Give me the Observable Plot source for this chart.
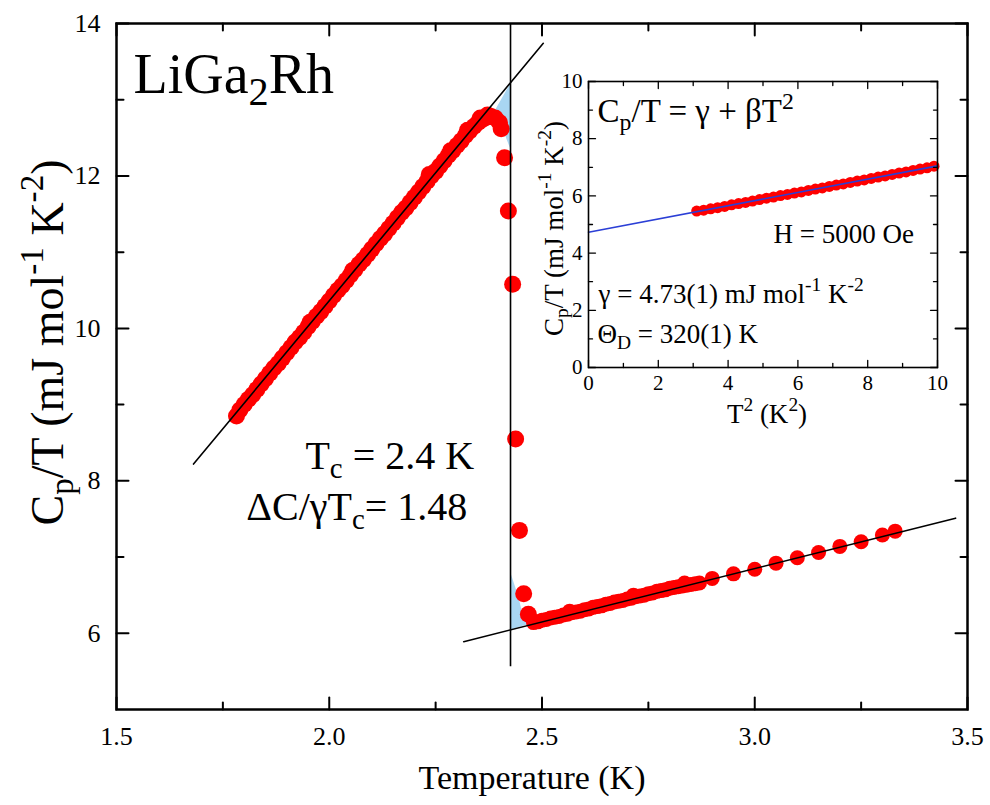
<!DOCTYPE html>
<html><head><meta charset="utf-8">
<script src="https://cdn.jsdelivr.net/npm/d3@7"></script>
<script src="https://cdn.jsdelivr.net/npm/@observablehq/plot@0.6"></script>
<style>
body{margin:0;background:#fff;}
#wrap{position:relative;width:990px;height:805px;}
#wrap svg{position:absolute;}
#wrap svg text{font-family:"Liberation Serif","Times New Roman",serif;}
</style></head><body><div id="wrap"></div>
<script>
// ---------- main panel data ----------
const mainXDomain = [1.5, 3.5];
const mainYDomain = [5, 14];
const mainXMajor = [1.5, 2.0, 2.5, 3.0, 3.5];
const mainXMinor = [1.75, 2.25, 2.75, 3.25];
const mainYMajor = [6, 8, 10, 12, 14];
const mainYMinor = [7, 9, 11, 13];

// superconducting branch, peak and jump
const scT = [1.782,1.79,1.80,1.81,1.82,1.83,1.84,1.85,1.86,1.87,1.88,1.89,1.90,1.91,1.92,1.93,1.94,1.95,1.96,1.97,1.98,1.99,2.00,2.01,2.02,2.03,2.04,2.05,2.06,2.07,2.08,2.09,2.10,2.11,2.12,2.13,2.14,2.15,2.16,2.17,2.18,2.19,2.20,2.21,2.22,2.23,2.24,2.25,2.26,2.27,2.28,2.29,2.30,2.31,2.32,2.33,2.34,2.35,2.36,2.37,2.38,2.39,1.955,2.055,2.235,2.285,2.325,2.355,2.372,2.400,2.404,2.412,2.421,2.431,2.438,2.447,2.457,2.468];
const scV = [8.85,8.93,9.00,9.07,9.13,9.20,9.27,9.34,9.41,9.48,9.54,9.61,9.68,9.75,9.82,9.88,9.95,10.02,10.09,10.16,10.22,10.29,10.36,10.43,10.50,10.56,10.63,10.70,10.77,10.84,10.90,10.97,11.04,11.11,11.18,11.24,11.31,11.38,11.45,11.52,11.58,11.65,11.72,11.79,11.86,11.93,12.00,12.06,12.13,12.20,12.27,12.33,12.40,12.46,12.53,12.59,12.65,12.70,12.74,12.77,12.78,12.76,10.08,10.76,12.02,12.33,12.60,12.76,12.80,12.70,12.62,12.24,11.54,10.58,8.55,7.35,6.52,6.25];
// normal-state branch
const nT = [2.48,2.49,2.50,2.51,2.52,2.53,2.54,2.55,2.56,2.57,2.58,2.59,2.60,2.61,2.62,2.63,2.64,2.65,2.66,2.67,2.68,2.69,2.70,2.71,2.72,2.73,2.74,2.75,2.76,2.77,2.78,2.79,2.80,2.81,2.82,2.83,2.84,2.85,2.86,2.87,2.565,2.715,2.835,2.90,2.95,3.00,3.05,3.10,3.15,3.20,3.25,3.30,3.33];
const nV = [6.14,6.15,6.17,6.18,6.20,6.21,6.22,6.24,6.25,6.27,6.28,6.29,6.31,6.32,6.34,6.35,6.36,6.38,6.39,6.41,6.42,6.43,6.45,6.46,6.48,6.49,6.50,6.52,6.53,6.55,6.56,6.57,6.59,6.60,6.61,6.62,6.63,6.64,6.65,6.66,6.29,6.50,6.66,6.72,6.78,6.84,6.92,6.99,7.06,7.14,7.20,7.29,7.34];

const fitScT = [1.681, 2.503];
const fitScV = [8.22, 13.74];
const fitNT = [2.316, 3.472];
const fitNV = [5.89, 7.51];
const tcLineT = 2.426;
const tcLineV = [5.56, 14];

const shadeTopT = [2.386, 2.426, 2.426, 2.412, 2.400];
const shadeTopV = [12.83, 13.22, 12.35, 12.55, 12.75];
const shadeBotT = [2.426, 2.426, 2.466, 2.452, 2.445];
const shadeBotV = [6.79, 6.05, 6.12, 6.30, 6.47];

const compoundLabel = "LiGa_{2}Rh";
const tcLines = ["T_{c} = 2.4 K", "ΔC/γT_{c}= 1.48"];   // two lines of one annotation
const tcLinesT = [1.944, 1.805];                        // left edge of each line (K)
const tcLinesV = [8.152, 7.482];                        // baseline of each line
const mainXTitle = "Temperature (K)";
const mainYTitle = "C_{p}/T (mJ mol^{-1} K^{-2})";

// ---------- inset data ----------
const insXDomain = [0, 10];
const insYDomain = [0, 10];
const insMajor = [0, 2, 4, 6, 8, 10];
const insMinor = [1, 3, 5, 7, 9];
const insT2 = [3.1,3.3,3.5,3.7,3.9,4.1,4.3,4.5,4.7,4.9,5.1,5.3,5.5,5.7,5.9,6.1,6.3,6.5,6.7,6.9,7.1,7.3,7.5,7.7,7.9,8.1,8.3,8.5,8.7,8.9,9.1,9.3,9.5,9.7,9.9];
const insV = [5.47,5.50,5.55,5.59,5.63,5.69,5.73,5.77,5.82,5.87,5.92,5.96,6.01,6.05,6.10,6.14,6.19,6.24,6.28,6.33,6.38,6.42,6.47,6.52,6.56,6.61,6.66,6.70,6.75,6.80,6.84,6.89,6.94,6.98,7.04];
const insFitX = [0, 10];
const insFitV = [4.73, 7.05];
const insFormula = "C_{p}/T = γ + βT^{2}";
const insField = "H = 5000 Oe";
const insGamma = "γ = 4.73(1) mJ mol^{-1} K^{-2}";
const insTheta = "Θ_{D} = 320(1) K";
const insXTitle = "T^{2} (K^{2})";
const insYTitle = "C_{p}/T (mJ mol^{-1} K^{-2})";

// ---------- helpers ----------
const FONT = "Liberation Serif";
const ns = "http://www.w3.org/2000/svg";
const zip = (a, b) => a.map((v, i) => ({x: v, y: b[i]}));
const tickShape = {draw(c, l) { c.moveTo(0, 0); c.lineTo(0, -l); }};
function frameTicks(xs, ys, xd, yd, len, sw) {
  const o = {length: len, anchor: "start", shape: tickShape, strokeWidth: sw};
  return [
    Plot.vector(xs, {x: d => d, y: yd[0], rotate: 0, ...o}),
    Plot.vector(xs, {x: d => d, y: yd[1], rotate: 180, ...o}),
    Plot.vector(ys, {x: xd[0], y: d => d, rotate: 90, ...o}),
    Plot.vector(ys, {x: xd[1], y: d => d, rotate: -90, ...o})
  ];
}
function label(str, opts) { return Plot.text([str], {text: d => d, lineAnchor: "bottom", fontFamily: FONT, ...opts}); }

// fill a text/tspan node with rich content: _{sub} and ^{sup}
function fillRich(node, s, fs) {
  let shift = 0;
  const add = (str, kind) => {
    if (!str) return;
    const ts = document.createElementNS(ns, "tspan");
    const target = kind === "sub" ? 0.22 * fs : kind === "sup" ? -0.42 * fs : 0;
    const dy = target - shift; shift = target;
    if (dy) ts.setAttribute("dy", dy.toFixed(2));
    if (kind) ts.setAttribute("font-size", (0.72 * fs).toFixed(2));
    ts.textContent = str;
    node.appendChild(ts);
  };
  const re = /([_^])\{([^}]*)\}/g;
  let last = 0, m;
  while ((m = re.exec(s))) {
    add(s.slice(last, m.index), null);
    add(m[2], m[1] === "_" ? "sub" : "sup");
    last = re.lastIndex;
  }
  add(s.slice(last), null);
}
// multi-line texts: lines joined by "|", each line placed by its own data x / y
function richify(svg, lineSpecs) {
  svg.querySelectorAll("text").forEach(t => {
    const s = t.textContent;
    if (!/[_^]\{|\|/.test(s)) return;
    const fs = parseFloat(getComputedStyle(t).fontSize);
    t.textContent = "";
    if (s.includes("|") && lineSpecs) {
      s.split("|").forEach((line, i) => {
        const L = document.createElementNS(ns, "tspan");
        L.setAttribute("x", lineSpecs.dx[i].toFixed(2));
        L.setAttribute("y", lineSpecs.dy[i].toFixed(2));
        fillRich(L, line, fs);
        t.appendChild(L);
      });
    } else {
      fillRich(t, s, fs);
    }
  });
}

// ---------- main plot ----------
const main = Plot.plot({
  width: 990, height: 805,
  marginLeft: 116, marginRight: 23, marginTop: 23, marginBottom: 96,
  style: {fontFamily: FONT, background: "none", color: "#000", overflow: "visible"},
  x: {domain: mainXDomain},
  y: {domain: mainYDomain},
  marks: [
    Plot.line(zip(shadeTopT, shadeTopV), {x: "x", y: "y", fill: "#a9d6f2", stroke: "none", curve: "linear-closed"}),
    Plot.line(zip(shadeBotT, shadeBotV), {x: "x", y: "y", fill: "#a9d6f2", stroke: "none", curve: "linear-closed"}),
    Plot.dot(zip(scT, scV), {x: "x", y: "y", r: 8.5, fill: "#fe0000", stroke: "none"}),
    Plot.dot(zip(nT, nV), {x: "x", y: "y", r: 7.5, fill: "#fe0000", stroke: "none"}),
    Plot.line(zip(fitScT, fitScV), {x: "x", y: "y", stroke: "#000", strokeWidth: 1.6}),
    Plot.line(zip(fitNT, fitNV), {x: "x", y: "y", stroke: "#000", strokeWidth: 1.6}),
    Plot.ruleX([tcLineT], {y1: tcLineV[0], y2: tcLineV[1], stroke: "#000", strokeWidth: 1.6}),
    Plot.frame({strokeWidth: 2.5}),
    ...frameTicks(mainXMajor, mainYMajor, mainXDomain, mainYDomain, 12, 2),
    ...frameTicks(mainXMinor, mainYMinor, mainXDomain, mainYDomain, 7, 2),
    Plot.axisX({ticks: mainXMajor, tickFormat: d => d.toFixed(1), tickSize: 0, tickPadding: 17, fontSize: 26, fontFamily: FONT, label: null}),
    Plot.axisY({ticks: mainYMajor, tickFormat: d => String(d), tickSize: 0, tickPadding: 16, fontSize: 26, fontFamily: FONT, label: null}),
    label(compoundLabel, {x: 1.54, y: 13.09, textAnchor: "start", fontSize: 56}),
    label(tcLines.join("|"), {x: tcLinesT[1], y: tcLinesV[0], textAnchor: "start", fontSize: 40}),
    label(mainXTitle, {frameAnchor: "bottom", textAnchor: "middle", dx: -10, dy: 79, fontSize: 34}),
    label(mainYTitle, {frameAnchor: "left", textAnchor: "middle", rotate: -90, dx: -54, dy: -24, fontSize: 46})
  ]
});
main.style.left = "0px"; main.style.top = "0px";

// ---------- inset ----------
const inset = Plot.plot({
  width: 420, height: 380,
  marginLeft: 48, marginRight: 23, marginTop: 21, marginBottom: 73,
  style: {fontFamily: FONT, background: "none", color: "#000", overflow: "visible"},
  x: {domain: insXDomain},
  y: {domain: insYDomain},
  marks: [
    Plot.dot(zip(insT2, insV), {x: "x", y: "y", r: 5.5, fill: "#fe0000", stroke: "none"}),
    Plot.line(zip(insFitX, insFitV), {x: "x", y: "y", stroke: "#2b3fd6", strokeWidth: 1.6}),
    Plot.frame({strokeWidth: 1.6}),
    ...frameTicks(insMajor, insMajor, insXDomain, insYDomain, 7, 1.3),
    ...frameTicks(insMinor, insMinor, insXDomain, insYDomain, 4, 1.3),
    Plot.axisX({ticks: insMajor, tickSize: 0, tickPadding: 8, fontSize: 21, fontFamily: FONT, label: null}),
    Plot.axisY({ticks: insMajor, tickSize: 0, tickPadding: 6, fontSize: 21, fontFamily: FONT, label: null}),
    label(insFormula, {x: 0.26, y: 8.57, textAnchor: "start", fontSize: 33}),
    label(insField, {x: 5.30, y: 4.34, textAnchor: "start", fontSize: 27}),
    label(insGamma, {x: 0.29, y: 2.27, textAnchor: "start", fontSize: 27}),
    label(insTheta, {x: 0.26, y: 0.87, textAnchor: "start", fontSize: 27}),
    label(insXTitle, {frameAnchor: "bottom", textAnchor: "middle", dx: 4, dy: 55, fontSize: 27}),
    label(insYTitle, {frameAnchor: "left", textAnchor: "middle", rotate: -90, dx: -26, dy: 4, fontSize: 27})
  ]
});
inset.style.left = "540px"; inset.style.top = "60px";

const wrap = document.getElementById("wrap");
wrap.appendChild(main);
wrap.appendChild(inset);

// per-line offsets of the two-line annotation, measured through the main plot's scales
const sx = main.scale("x"), sy = main.scale("y");
const lineSpecs = {
  dx: tcLinesT.map(t => sx.apply(t) - sx.apply(tcLinesT[1])),
  dy: tcLinesV.map(v => sy.apply(v) - sy.apply(tcLinesV[0]))
};
richify(main, lineSpecs);
richify(inset, null);
</script></body></html>
